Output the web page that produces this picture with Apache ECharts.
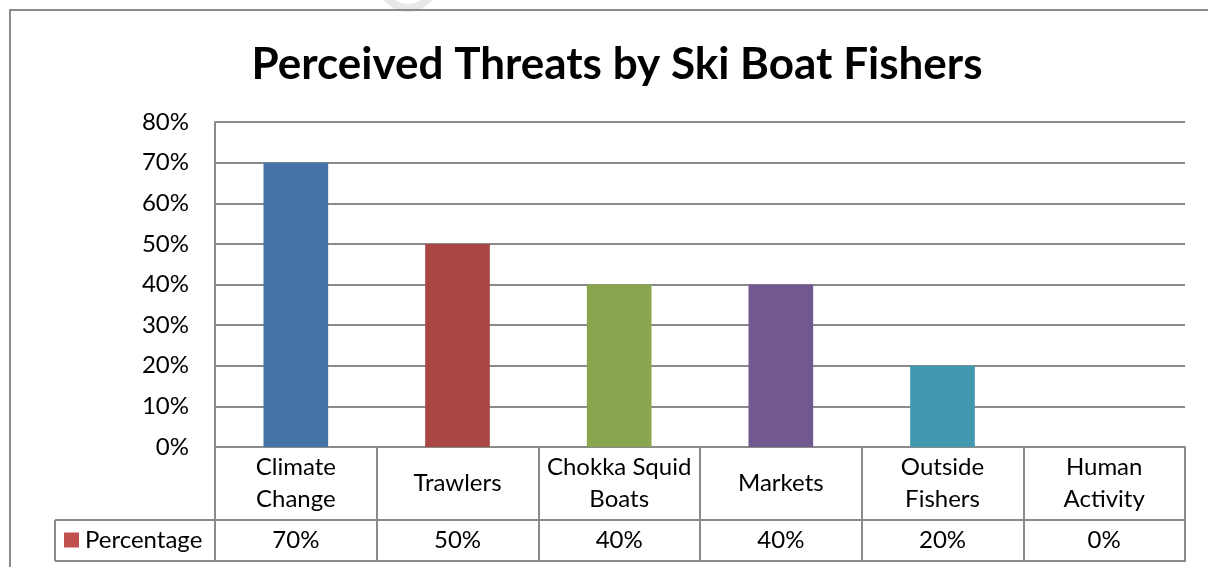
<!DOCTYPE html>
<html>
<head>
<meta charset="utf-8">
<script src="https://cdn.jsdelivr.net/npm/echarts@6/dist/echarts.min.js"></script>
<style>
  html, body { margin: 0; padding: 0; background: #fff; }
  #chart { width: 1208px; height: 567px; }
</style>
</head>
<body>
<div id="chart"></div>
<script>
// Survey results: share of ski boat fishers naming each threat
const chartTitle = 'Perceived Threats by Ski Boat Fishers';
const seriesName = 'Percentage';
const categories = ['Climate Change', 'Trawlers', 'Chokka Squid Boats', 'Markets', 'Outside Fishers', 'Human Activity'];
const percentages = [0.70, 0.50, 0.40, 0.40, 0.20, 0.00];
const barColors = ['#4572A7', '#AA4643', '#89A54E', '#71588F', '#4198AF', '#DB843D'];
const legendColor = '#C0504D';

// Layout of the plot area and the data table beneath it
const FONT = 'Lato, "Open Sans", sans-serif';
const LINE = '#8a8a8a';
const G = { left: 215, top: 122, width: 970, height: 325 };
const ROW1_H = 73;   // category name row
const ROW2_H = 41;   // value row
const TABLE_LEFT = 55;

const pct = v => Math.round(v * 100) + '%';

// Wrap category names the way the table cells do
function wrapName(name) {
  const w = name.split(' ');
  if (w.length === 1) return name;
  if (w.length === 2) return w[0] + '\n' + w[1];
  return w.slice(0, w.length - 1).join(' ') + '\n' + w[w.length - 1];
}

const gBottom = G.top + G.height;
const row2Top = gBottom + ROW1_H;
const tableBottom = row2Top + ROW2_H;
const gRight = G.left + G.width;

const chart = echarts.init(document.getElementById('chart'), null, { renderer: 'canvas' });

chart.setOption({
  animation: false,
  backgroundColor: '#fff',
  color: barColors,
  textStyle: { fontFamily: FONT },
  title: {
    text: chartTitle,
    left: 612,
    textAlign: 'center',
    top: 38,
    textStyle: { fontFamily: FONT, fontSize: 44, fontWeight: 'bold', color: '#000' }
  },
  legend: {
    left: 64,
    top: row2Top + 8,
    padding: 0,
    itemWidth: 15,
    itemHeight: 15,
    icon: 'rect',
    selectedMode: false,
    textStyle: { fontFamily: FONT, fontSize: 24, color: '#000', padding: [0, 0, 0, 1] },
    data: [{ name: seriesName, itemStyle: { color: legendColor } }]
  },
  grid: { left: G.left, top: G.top, width: G.width, height: G.height, containLabel: false },
  xAxis: [
    {
      type: 'category',
      data: categories,
      position: 'bottom',
      axisLine: { show: true, lineStyle: { color: LINE, width: 2 } },
      axisTick: { show: true, alignWithLabel: false, length: ROW1_H + ROW2_H, lineStyle: { color: LINE, width: 2 } },
      axisLabel: {
        interval: 0,
        margin: ROW1_H / 2,
        verticalAlign: 'middle',
        fontFamily: FONT,
        fontSize: 24,
        lineHeight: 32,
        color: '#000',
        formatter: wrapName
      }
    },
    {
      type: 'category',
      data: categories,
      position: 'bottom',
      offset: 0,
      axisLine: { show: false },
      axisTick: { show: false },
      axisLabel: {
        interval: 0,
        margin: ROW1_H + ROW2_H / 2,
        verticalAlign: 'middle',
        fontFamily: FONT,
        fontSize: 24,
        color: '#000',
        formatter: (v, i) => pct(percentages[i])
      }
    }
  ],
  yAxis: {
    type: 'value',
    min: 0,
    max: 0.8,
    interval: 0.1,
    axisLine: { show: true, lineStyle: { color: LINE, width: 2 } },
    axisTick: { show: false },
    splitLine: { show: true, lineStyle: { color: LINE, width: 2 } },
    axisLabel: { margin: 26, fontFamily: FONT, fontSize: 24, color: '#000', formatter: v => pct(v) }
  },
  series: [{
    name: seriesName,
    type: 'bar',
    xAxisIndex: 0,
    colorBy: 'data',
    barWidth: '40%',
    data: percentages
  }],
  graphic: [
    // faint mark at the top edge
    { type: 'circle', silent: true, z: -1, shape: { cx: 408, cy: -18, r: 26 },
      style: { fill: 'none', stroke: '#e8e8e8', lineWidth: 8 } },
    // outer chart frame
    { type: 'rect', silent: true, shape: { x: 10, y: 10, width: 1230, height: 600 },
      style: { fill: 'none', stroke: '#8a8a8a', lineWidth: 2 } },
    // data table rules
    { type: 'line', silent: true, shape: { x1: TABLE_LEFT, y1: row2Top, x2: gRight, y2: row2Top },
      style: { stroke: LINE, lineWidth: 2 } },
    { type: 'line', silent: true, shape: { x1: TABLE_LEFT, y1: tableBottom, x2: gRight + 1, y2: tableBottom },
      style: { stroke: LINE, lineWidth: 2 } },
    { type: 'line', silent: true, shape: { x1: TABLE_LEFT, y1: row2Top, x2: TABLE_LEFT, y2: tableBottom },
      style: { stroke: LINE, lineWidth: 2 } }
  ]
});
</script>
</body>
</html>
